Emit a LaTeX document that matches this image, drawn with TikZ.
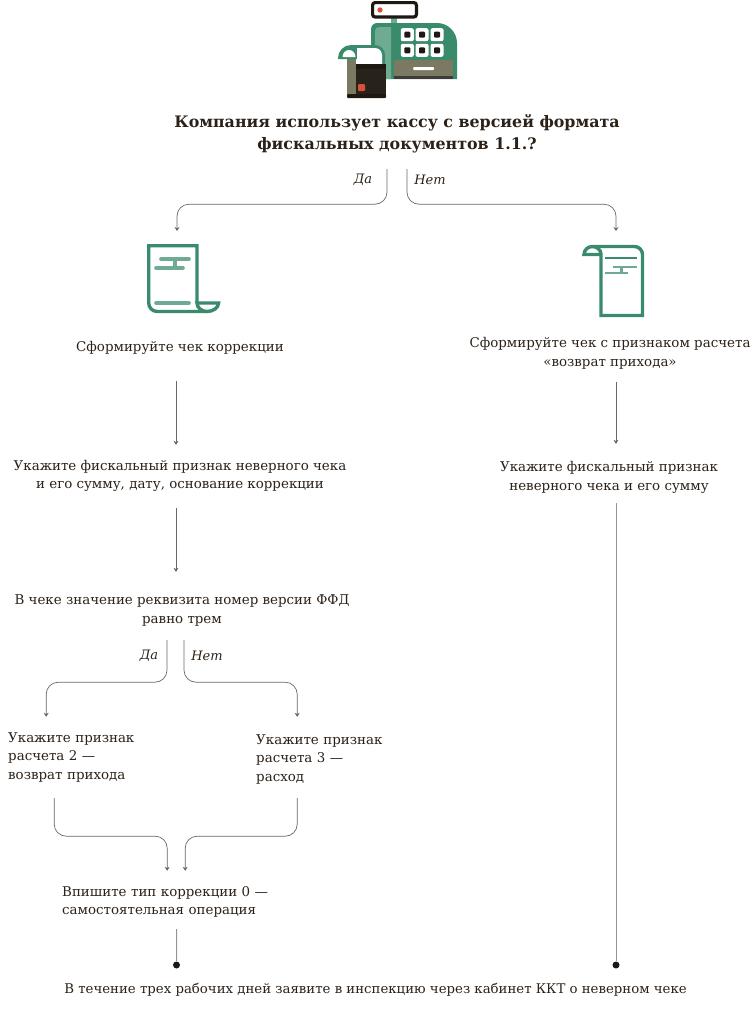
\documentclass[tikz,border=0pt]{standalone}
\usepackage{fontspec}
\usetikzlibrary{arrows.meta,calc}
\setmainfont{DejaVu Serif}
\definecolor{inkc}{HTML}{2B2118}
\definecolor{linec}{HTML}{6E665E}
\definecolor{greenc}{HTML}{3A8B6C}
\definecolor{paleg}{HTML}{6FAB93}
\definecolor{khaki}{HTML}{7C7962}
\definecolor{blackc}{HTML}{1E1813}
\definecolor{redc}{HTML}{D9503A}
\tikzset{
  txt/.style={inkc,inner sep=0pt,align=center,font=\fontsize{13.4}{18.5}\selectfont},
  txtl/.style={txt,anchor=west,align=left},
  yesno/.style={inkc,inner sep=0pt,font=\fontsize{13}{15}\selectfont\itshape},
  flow/.style={linec,line width=.7pt,rounded corners=12pt,-{Stealth[length=4pt,width=5pt]}},
  plainl/.style={linec!70,line width=1pt},
  blackdot/.style={circle,fill=blackc,inner sep=0pt,minimum size=7pt},
  icon/.style={greenc,line width=3.4pt},
  iconpale/.style={paleg,line width=3.6pt,line cap=round},
}
\begin{document}
\begin{tikzpicture}[x=1pt,y=-1pt]
  \useasboundingbox (0,0) rectangle (750,1010);

  % cash register
  \fill[greenc] (371,79) -- (371,29) arc (180:270:6) -- (437,23) arc (270:360:20) -- (457,79) -- cycle;
  \fill[paleg] (375,79) -- (375,31) arc (180:270:4) -- (391,27) -- (391,79) -- cycle;
  \fill[paleg] (391,18) rectangle (397,23);
  \draw[blackc,line width=3.2pt,fill=white,rounded corners=2.5pt] (372.6,2.6) rectangle (416.4,17);
  \fill[redc] (380,10) circle (2.7);
  \foreach \px in {407.3,422,437} \foreach \py in {34.7,50.3} {
    \fill[white,rounded corners=2pt] (\px-6.5,\py-6.5) rectangle (\px+6.5,\py+6.5);
    \fill[blackc,rounded corners=1pt] (\px-3,\py-3) rectangle (\px+3,\py+3);
  }
  \fill[khaki] (394,60) rectangle (453,76);
  \fill[blackc!85] (394,76) rectangle (453,79);
  \fill[white,rounded corners=1pt] (413,67) rectangle (434,70);

  % printer
  \fill[greenc] (338,58) arc (180:270:13) -- (375,45) arc (270:360:10) -- (385,66) -- (357,66) -- (357,59) -- (338,59) -- cycle;
  \fill[white] (357,48) -- (375,48) arc (270:360:7) -- (382,66) -- (357,66) -- cycle;
  \fill[white] (342.5,57) arc (180:360:6.5 and 7) -- cycle;
  \fill[khaki] (347,59) rectangle (356,97);
  \fill[blackc!90!khaki] (356,65) rectangle (386,95);
  \fill[blackc] (356,64) rectangle (386,69);
  \fill[blackc,rounded corners=1pt] (347,94) rectangle (386,98);
  \fill[redc,rounded corners=1pt] (358,84) rectangle (365,91);

  % left paper
  \draw[icon] (197,303) -- (197,245.7) -- (148.7,245.7) -- (148.7,303) arc (180:90:8.5) -- (207,311.5);
  \draw[icon,fill=white] (197,303) -- (218.5,303) arc (0:90:11.5 and 8.5) arc (90:180:10 and 8.5) -- cycle;
  \draw[iconpale] (161,259) -- (189,259);
  \draw[iconpale] (156,268) -- (183,268);
  \fill[paleg] (173,259) rectangle (177,268);
  \draw[iconpale] (156,303) -- (189,303);

  % right paper
  \draw[icon] (592.5,246.5) -- (634.5,246.5) arc (270:360:8) -- (642.5,315.5) -- (601,315.5) -- (601,254);
  \draw[icon] (601,254.5) -- (584,254.5) arc (180:270:8.5 and 8) arc (270:360:8.5 and 8);
  \draw[greenc,line width=2.4pt] (605,258) -- (637,258);
  \draw[paleg,line width=2.4pt] (613,267) -- (637,267);
  \draw[paleg,line width=2.4pt] (605,273) -- (628,273);
  \fill[paleg] (620,267) rectangle (623,273);

  % texts
  \node[txt,font=\fontsize{15.85}{22}\selectfont\bfseries,minimum height=70pt] (title) at (397,134)
    {Компания использует кассу с версией формата\\фискальных документов 1.1.?};
  \node[txt,minimum height=66pt] (fix) at (180,348) {Сформируйте чек коррекции};
  \node[txt,minimum height=57pt] (refund) at (610,353.5) {Сформируйте чек с признаком расчета\\«возврат прихода»};
  \node[txt,minimum height=62pt] (sign) at (180,476) {Укажите фискальный признак неверного чека\\и его сумму, дату, основание коррекции};
  \node[txt,minimum height=67pt] (signr) at (609,477.5) {Укажите фискальный признак\\неверного чека и его сумму};
  \node[txt,minimum height=77pt] (basis) at (182,610.5) {В чеке значение реквизита номер версии ФФД\\равно трем};
  \node[txtl,text width=150pt,minimum height=82pt] (calc2) at (8,757) {Укажите признак\\расчета 2 ---\\возврат прихода};
  \node[txtl,text width=150pt,minimum height=80pt] (calc3) at (256,759) {Укажите признак\\расчета 3 ---\\расход};
  \node[txtl,text width=230pt,minimum height=62pt] (kind) at (62,902) {Впишите тип коррекции 0 ---\\самостоятельная операция};
  \node[txt,font=\fontsize{13.3}{18}\selectfont] (final) at (375.5,990) {В течение трех рабочих дней заявите в инспекцию через кабинет ККТ о неверном чеке};
  \node[yesno] (yes1) at (363,180) {Да};
  \node[yesno] (no1) at (430,180) {Нет};
  \node[yesno] (yes2) at (149,656) {Да};
  \node[yesno] (no2) at (207,656) {Нет};
  \node[blackdot] (dotl) at (176.5,965) {};
  \node[blackdot] (dotr) at (616,965) {};
  \coordinate (iconl) at (177,231);
  \coordinate (iconr) at (616,231);

  % connectors
  \draw[flow] ($(title.south)+(-10,0)$) -- ++(0,35) -| (iconl);
  \draw[flow] ($(title.south)+(10,0)$) -- ++(0,35) -| (iconr);
  \draw[flow] ($(fix.south)+(-4,0)$) -- ($(sign.north)+(-4,0)$);
  \draw[flow] ($(refund.south)+(6,0)$) -- ($(signr.north)+(7,0)$);
  \draw[flow] ($(sign.south)+(-4,1)$) -- ($(basis.north)+(-6,0)$);
  \draw[flow] ($(basis.south)+(-15,-9)$) -- ++(0,42) -| ($(calc2.north)+(-37,1)$);
  \draw[flow] ($(basis.south)+(2,-9)$) -- ++(0,42) -| ($(calc3.north)+(-34,-2)$);
  \draw[flow] ($(calc2.south)+(-29,0)$) -- ++(0,38) -| ($(kind.north)+(-10,0)$);
  \draw[flow] ($(calc3.south)+(-34,-1)$) -- ++(0,38) -| ($(kind.north)+(8,0)$);
  \draw[plainl] ($(kind.south)+(-.5,-4)$) -- (dotl);
  \draw[plainl] ($(signr.south)+(7,-8)$) -- (dotr);
\end{tikzpicture}
\end{document}
